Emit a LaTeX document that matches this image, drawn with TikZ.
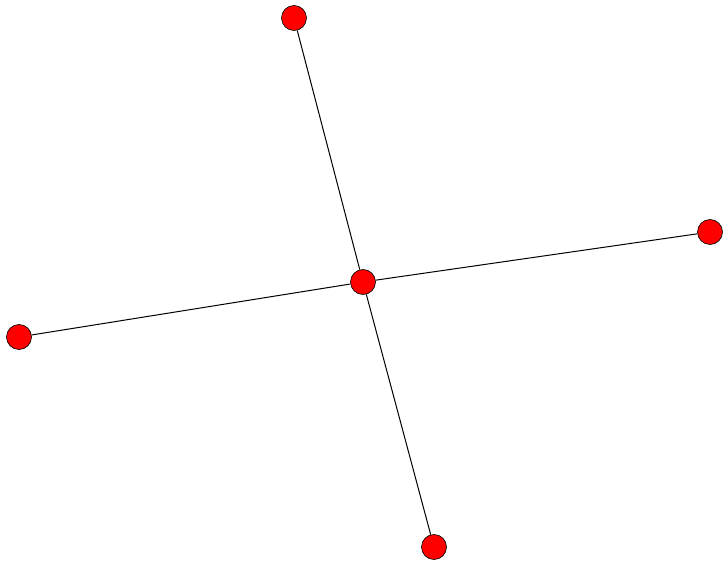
\documentclass[tikz,border=0pt]{standalone}
\begin{document}
\begin{tikzpicture}[x=1pt,y=-1pt,
  vertex/.style={circle,draw=black,fill=red,line width=0.6pt,minimum size=25pt,inner sep=0pt},
  edge/.style={draw=black,line width=1pt}]
\useasboundingbox (0,0) rectangle (724,564);
\node[vertex] (c) at (363,282) {};
\node[vertex] (t) at (294,18) {};
\node[vertex] (r) at (710,232) {};
\node[vertex] (l) at (19,337) {};
\node[vertex] (b) at (434,547) {};
\begin{scope}[on background layer/.style={}]
\end{scope}
\draw[edge] (c) -- (t);
\draw[edge] (c) -- (r);
\draw[edge] (c) -- (l);
\draw[edge] (c) -- (b);
\end{tikzpicture}
\end{document}
